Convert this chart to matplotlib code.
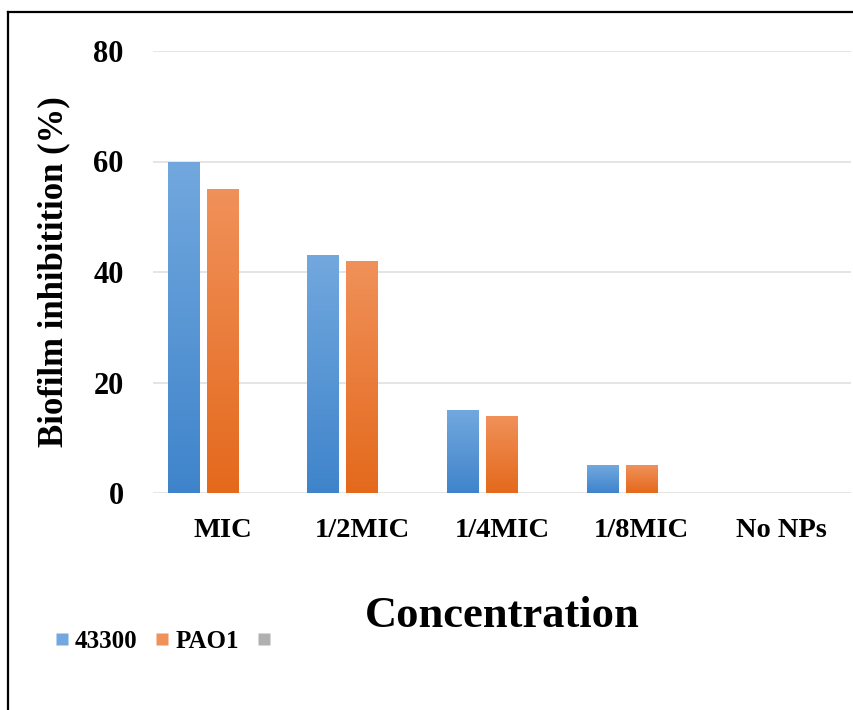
import matplotlib
matplotlib.use("Agg")
import matplotlib.pyplot as plt
import numpy as np
from matplotlib.colors import LinearSegmentedColormap
from matplotlib.lines import Line2D

categories = ["MIC", "1/2MIC", "1/4MIC", "1/8MIC", "No NPs"]
series_names = ["43300", "PAO1", ""]
strain_43300 = [60, 43, 15, 5, 0]
strain_pao1 = [55, 42, 14, 5, 0]
strain_blank = [0, 0, 0, 0, 0]
yticks = [0, 20, 40, 60, 80]

plt.rcParams["font.family"] = ["Liberation Serif", "DejaVu Serif"]
plt.rcParams["font.weight"] = "bold"

# light top -> dark bottom, like the Excel gradient fill
colors = [("#72a8de", "#3f84cb"), ("#f0915a", "#e4691c"), ("#b0b0b0", "#8c8c8c")]

fig = plt.figure(figsize=(8.54, 7.10), dpi=100)
ax = fig.add_axes([153 / 854, 1 - 493 / 710, 698 / 854, 442 / 710])

x = np.arange(len(categories))
width = 0.229
offsets = [-0.28, 0.0, 0.28]
all_vals = [strain_43300, strain_pao1, strain_blank]

for vals, off, (top, bot) in zip(all_vals, offsets, colors):
    bars = ax.bar(x + off, vals, width, color="none", edgecolor="none", zorder=2)
    cmap = LinearSegmentedColormap.from_list("g", [bot, top])
    grad = np.linspace(0, 1, 256).reshape(-1, 1)
    for b in bars:
        h = b.get_height()
        if h <= 0:
            continue
        x0 = b.get_x()
        im = ax.imshow(grad, extent=[x0, x0 + b.get_width(), 0, h], origin="lower",
                       aspect="auto", cmap=cmap, zorder=2)
        im.set_clip_path(b)

ax.set_xlim(-0.5, len(categories) - 0.5)
ax.set_ylim(0, 80)
ax.set_yticks(yticks)
ax.set_xticks(x)
ax.set_xticklabels(categories)
ax.yaxis.grid(True, color="#e0e0e0", linewidth=1.2, zorder=0)
ax.set_axisbelow(True)
for s in ax.spines.values():
    s.set_visible(False)
ax.tick_params(axis="y", length=0, pad=21, labelsize=22)
ax.tick_params(axis="x", length=0, pad=18, labelsize=20.5)
for lab in ax.get_xticklabels() + ax.get_yticklabels():
    lab.set_fontweight("bold")

ax.set_ylabel("Biofilm inhibitition (%)", fontsize=25, fontweight="bold", labelpad=17)
ax.set_xlabel("Concentration", fontsize=32, fontweight="bold", labelpad=38)

handles = [Line2D([], [], marker="s", linestyle="none", markersize=8,
                  markerfacecolor=c[0], markeredgecolor="none") for c in colors]
fig.legend(handles, series_names, loc="center left", ncol=3, frameon=False,
           bbox_to_anchor=(29 / 854, 1 - 641 / 710), prop={"size": 18, "weight": "bold"},
           handletextpad=0.12, columnspacing=0.6, handlelength=0.8)

# border lines on the top and left edge of the image
fig.add_artist(Line2D([8 / 854, 1], [1 - 12 / 710, 1 - 12 / 710], color="black", linewidth=1.6))
fig.add_artist(Line2D([8 / 854, 8 / 854], [0, 1 - 12 / 710], color="black", linewidth=1.6))

fig.savefig("out.png", dpi=100)
